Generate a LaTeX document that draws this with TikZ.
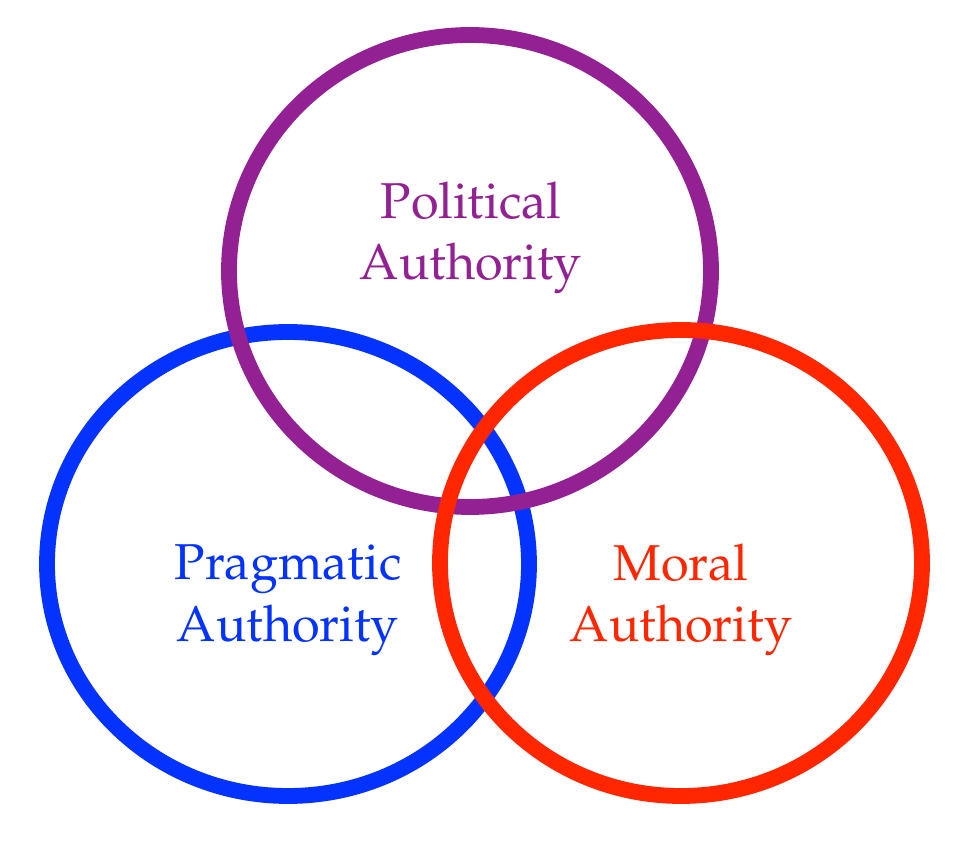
\documentclass[tikz,border=0pt]{standalone}
\usepackage[T1]{fontenc}
\usepackage{mathpazo}
\definecolor{pragblue}{HTML}{0433FF}
\definecolor{polpurple}{HTML}{942193}
\definecolor{moralred}{HTML}{FF2600}
\tikzset{
    ring/.style={draw=#1, line width=9pt},
    label/.style={align=center, text=#1, font=\fontsize{28.7}{35}\selectfont}
}

\begin{document}
\begin{tikzpicture}
    \useasboundingbox (0,0) rectangle (19.2,16.92);
    \draw[ring=pragblue] (5.76,5.64) ellipse (4.82cm and 4.64cm);
    \draw[ring=polpurple] (9.40,11.50) ellipse (4.82cm and 4.72cm);
    \draw[ring=moralred] (13.62,5.66) ellipse (4.82cm and 4.66cm);
    \node[label=polpurple] (political) at (9.42,12.16) {Political\\Authority};
    \node[label=pragblue] (pragmatic) at (5.76,4.92) {Pragmatic\\Authority};
    \node[label=moralred] (moral) at (13.62,4.92) {Moral\\Authority};
\end{tikzpicture}
\end{document}
